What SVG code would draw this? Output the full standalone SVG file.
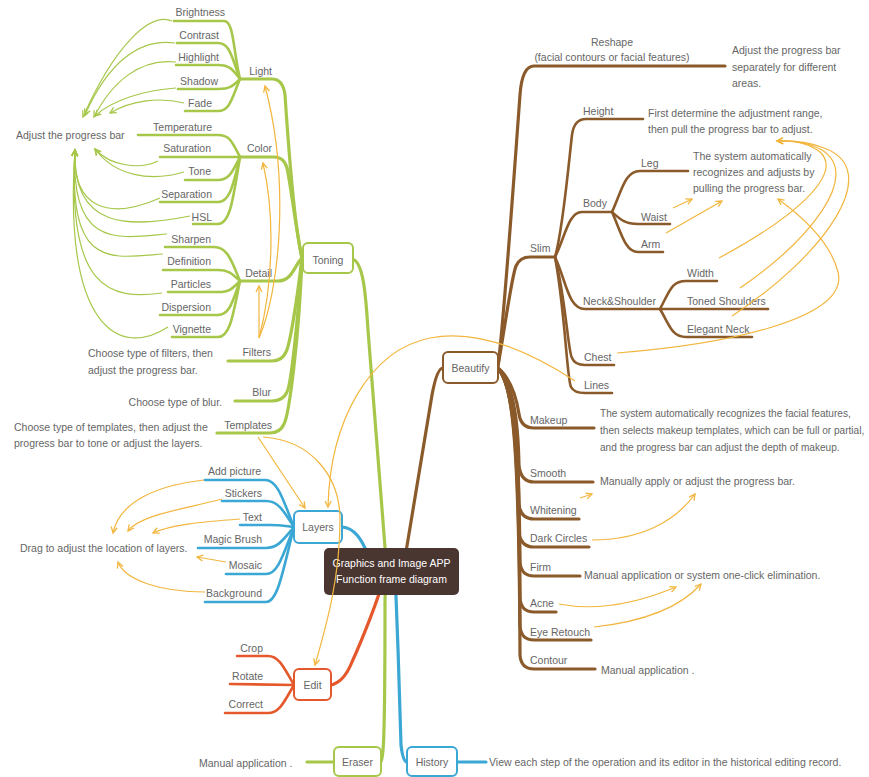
<svg xmlns="http://www.w3.org/2000/svg" width="869" height="777" viewBox="0 0 869 777">
<defs>
<style>
.t{font-family:"Liberation Sans",Arial,sans-serif;font-size:10.5px;fill:#666}
.s{font-size:10.1px}
.e{text-anchor:end}
.m{text-anchor:middle}
.w{fill:#fff}
.g{stroke:#a6c74a;fill:none;stroke-width:2.6;stroke-linecap:round}
.gt{stroke:#a6c74a;fill:none;stroke-width:3.2;stroke-linecap:round}
.b{stroke:#8b5a2b;fill:none;stroke-width:2.6;stroke-linecap:round}
.bt{stroke:#8b5a2b;fill:none;stroke-width:3.2;stroke-linecap:round}
.u{stroke:#3aa7d4;fill:none;stroke-width:2.6;stroke-linecap:round}
.ut{stroke:#3aa7d4;fill:none;stroke-width:3.2;stroke-linecap:round}
.r{stroke:#e5582c;fill:none;stroke-width:2.6;stroke-linecap:round}
.rt{stroke:#e5582c;fill:none;stroke-width:3.2;stroke-linecap:round}
.ga{stroke:#a6c74a;fill:none;stroke-width:1.2;marker-end:url(#ag)}
.oa{stroke:#f2b63e;fill:none;stroke-width:1.2;marker-end:url(#ao)}
.box{fill:#fff;stroke-width:2}
</style>
<marker id="ag" markerUnits="userSpaceOnUse" markerWidth="10" markerHeight="10" refX="7" refY="4" orient="auto"><path d="M1,1 L7,4 L1,7" fill="none" stroke="#a6c74a" stroke-width="1.3"/></marker>
<marker id="ao" markerUnits="userSpaceOnUse" markerWidth="10" markerHeight="10" refX="7" refY="4" orient="auto"><path d="M1,1 L7,4 L1,7" fill="none" stroke="#f2b63e" stroke-width="1.3"/></marker>
</defs>
<rect width="869" height="777" fill="#fff"/>
<g id="connectors">
<path class="gt" d="M352,259 C364,261 366,300 368,330 L386,560"/>
<path class="gt" d="M386,570 L385,600 C385,680 384,740 383,750 Q382,762 381,762"/>
<path class="ut" d="M395,570 C397,620 400,700 401,745 Q403,762 407,762"/>
<path class="ut" d="M342,527 C355,528 362,540 368,555"/>
<path class="bt" d="M403,570 L432,395 Q437,368 443,368"/>
<path class="rt" d="M385,575 C378,600 362,640 352,662 Q344,682 331,685"/>
<path class="gt" d="M334,762 L307,762"/>
<path class="ut" d="M457,762 L486,762"/>
<path class="gt" d="M302,258 C294,225 288,140 285,95 Q283,79 272,79 L240,79"/>
<path class="gt" d="M302,258 C296,230 290,180 287,168 Q284,157 274,157 L240,157"/>
<path class="gt" d="M302,258 C294,266 292,281 278,281 L240,281"/>
<path class="gt" d="M302,258 C297,300 290,345 286,352 Q282,361 272,361 L228,361"/>
<path class="gt" d="M302,258 C298,320 291,385 287,392 Q283,401 272,401 L235,401"/>
<path class="gt" d="M302,258 C299,340 289,415 284,424 Q280,433 270,433 L217,433"/>
<path class="g" d="M240,79 C233,50 234,21 224,21 L174,21"/>
<path class="g" d="M240,79 C232,58 230,43 218,43 L177,43"/>
<path class="g" d="M240,79 C233,70 230,65 218,65 L176,65"/>
<path class="g" d="M240,79 C233,86 230,89 218,89 L178,89"/>
<path class="g" d="M240,79 C232,98 230,111 218,111 L185,111"/>
<path class="g" d="M240,157 C232,142 230,135 218,135 L138,135"/>
<path class="g" d="M240,157 L160,157"/>
<path class="g" d="M240,157 C233,170 230,180 218,180 L185,180"/>
<path class="g" d="M240,157 C233,185 230,202 218,202 L160,202"/>
<path class="g" d="M240,157 C233,200 230,224 218,224 L193,224"/>
<path class="g" d="M240,281 C232,262 228,247 214,247 L165,247"/>
<path class="g" d="M240,281 C233,275 230,270 218,270 L163,270"/>
<path class="g" d="M240,281 C233,288 230,292 218,292 L168,292"/>
<path class="g" d="M240,281 C233,300 230,315 218,315 L160,315"/>
<path class="g" d="M240,281 C233,315 230,337 218,337 L172,337"/>
<path class="u" d="M294,527 C283,500 278,480 265,480 L205,480"/>
<path class="u" d="M294,527 C283,510 278,501 266,501 L222,501"/>
<path class="u" d="M294,527 C285,526 280,525 270,525 L240,525"/>
<path class="u" d="M294,527 C283,540 278,548 266,548 L198,548"/>
<path class="u" d="M294,527 C283,555 278,574 266,574 L226,574"/>
<path class="u" d="M294,527 C283,570 278,602 266,602 L205,602"/>
<path class="r" d="M294,685 C285,670 280,656 268,656 L237,656"/>
<path class="r" d="M294,685 L230,684"/>
<path class="r" d="M294,685 C285,700 280,713 268,713 L225,713"/>
<path class="bt" d="M498,366 C504,320 513,190 520,95 Q522,66 534,66 L725,66"/>
<path class="bt" d="M498,366 C506,320 512,275 516,266 Q520,257 530,257 L555,257"/>
<path class="b" d="M555,257 C563,230 569,160 572,135 Q574,119 586,119 L643,119"/>
<path class="b" d="M555,257 C565,238 568,212 582,212 L612,212"/>
<path class="b" d="M555,257 C566,280 568,309 585,309 L660,309"/>
<path class="b" d="M555,257 C566,300 568,352 572,358 Q575,365 585,365 L614,365"/>
<path class="b" d="M555,257 C565,310 567,380 571,387 Q574,393 585,393 L612,393"/>
<path class="b" d="M612,212 C622,190 625,171 640,171 L688,171"/>
<path class="b" d="M612,212 C621,220 625,224 638,224 L670,224"/>
<path class="b" d="M612,212 C621,232 625,252 638,252 L663,252"/>
<path class="b" d="M660,309 C670,290 672,281 686,281 L717,281"/>
<path class="b" d="M660,309 L768,309"/>
<path class="b" d="M660,309 C670,326 672,337 686,337 L752,337"/>
<path class="bt" d="M498,368 C510,378 516,395 519,414 Q521,428 534,428 L594,428"/>
<path class="bt" d="M498,368 C511,382 518,410 519,466 Q521,482 534,482 L593,482"/>
<path class="bt" d="M498,368 C511,383 518,420 519,505 Q521,519 534,519 L579,519"/>
<path class="bt" d="M498,368 C511,384 518,425 519,533 Q521,547 534,547 L589,547"/>
<path class="bt" d="M498,368 C512,385 519,430 520,562 Q521,576 534,576 L580,576"/>
<path class="bt" d="M498,368 C512,385 519,430 520,598 Q521,612 534,612 L556,612"/>
<path class="bt" d="M498,368 C512,385 519,430 520,626 Q521,640 534,640 L591,640"/>
<path class="bt" d="M498,368 C512,385 519,430 520,655 Q521,669 534,669 L595,669"/>
</g>
<g id="node-root"><rect x="324" y="548" width="135" height="47" rx="5" fill="#4a3631"/><text class="t m w" x="391.5" y="567">Graphics and Image APP</text><text class="t m w" x="391.5" y="583">Function frame diagram</text></g>
<g id="node-toning"><rect class="box" x="303" y="243" width="50" height="30" rx="5" stroke="#a6c74a"/><text class="t m" x="328" y="264">Toning</text></g>
<g id="node-beautify"><rect class="box" x="443" y="352" width="55" height="31" rx="5" stroke="#8b5a2b"/><text class="t m" x="470.5" y="372">Beautify</text></g>
<g id="node-layers"><rect class="box" x="294" y="511" width="48" height="32" rx="5" stroke="#3aa7d4"/><text class="t m" x="318" y="531">Layers</text></g>
<g id="node-edit"><rect class="box" x="294" y="669" width="37" height="31" rx="5" stroke="#e5582c"/><text class="t m" x="312.5" y="689">Edit</text></g>
<g id="node-eraser"><rect class="box" x="334" y="747" width="47" height="29" rx="5" stroke="#a6c74a"/><text class="t m" x="357.5" y="766">Eraser</text></g>
<g id="node-history"><rect class="box" x="407" y="747" width="50" height="29" rx="5" stroke="#3aa7d4"/><text class="t m" x="432" y="766">History</text></g>
<g id="labels-toning">
<text class="t e" x="272" y="75">Light</text>
<text class="t e" x="272" y="152">Color</text>
<text class="t e" x="272" y="277">Detail</text>
<text class="t e" x="271" y="356">Filters</text>
<text class="t e" x="271" y="396">Blur</text>
<text class="t e" x="272" y="429">Templates</text>
<text class="t e" x="225" y="16">Brightness</text>
<text class="t e" x="219" y="39">Contrast</text>
<text class="t e" x="219" y="61">Highlight</text>
<text class="t e" x="218" y="85">Shadow</text>
<text class="t e" x="212" y="107">Fade</text>
<text class="t e" x="212" y="131">Temperature</text>
<text class="t e" x="211" y="152">Saturation</text>
<text class="t e" x="211" y="175">Tone</text>
<text class="t e" x="212" y="198">Separation</text>
<text class="t e" x="212" y="221">HSL</text>
<text class="t e" x="211" y="243">Sharpen</text>
<text class="t e" x="211" y="265">Definition</text>
<text class="t e" x="211" y="288">Particles</text>
<text class="t e" x="211" y="311">Dispersion</text>
<text class="t e" x="211" y="333">Vignette</text>
<text class="t" x="16" y="139">Adjust the progress bar</text>
<text class="t" x="88" y="357">Choose type of filters, then</text>
<text class="t" x="88" y="374">adjust the progress bar.</text>
<text class="t e" x="222" y="406">Choose type of blur.</text>
<text class="t" x="14" y="431">Choose type of templates, then adjust the</text>
<text class="t" x="14" y="447">progress bar to tone or adjust the layers.</text>
</g>
<g id="labels-layers">
<text class="t e" x="261" y="475">Add picture</text>
<text class="t e" x="262" y="497">Stickers</text>
<text class="t e" x="262" y="521">Text</text>
<text class="t e" x="262" y="543">Magic Brush</text>
<text class="t e" x="262" y="569">Mosaic</text>
<text class="t e" x="262" y="597">Background</text>
<text class="t" x="20" y="552">Drag to adjust the location of layers.</text>
</g>
<g id="labels-edit">
<text class="t e" x="263" y="652">Crop</text>
<text class="t e" x="263" y="680">Rotate</text>
<text class="t e" x="263" y="708">Correct</text>
<text class="t" x="199" y="767">Manual application .</text>
</g>
<g id="labels-beautify">
<text class="t m" x="612" y="46">Reshape</text>
<text class="t m" x="612" y="61">(facial contours or facial features)</text>
<text class="t" x="732" y="54">Adjust the progress bar</text>
<text class="t" x="732" y="71">separately for different</text>
<text class="t" x="732" y="87">areas.</text>
<text class="t" x="530" y="252">Slim</text>
<text class="t" x="583" y="115">Height</text>
<text class="t" x="648" y="117">First determine the adjustment range,</text>
<text class="t" x="648" y="133">then pull the progress bar to adjust.</text>
<text class="t" x="583" y="207">Body</text>
<text class="t" x="641" y="167">Leg</text>
<text class="t" x="641" y="221">Waist</text>
<text class="t" x="641" y="248">Arm</text>
<text class="t" x="693" y="160">The system automatically</text>
<text class="t" x="693" y="176">recognizes and adjusts by</text>
<text class="t" x="693" y="192">pulling the progress bar.</text>
<text class="t" x="583" y="305">Neck&amp;Shoulder</text>
<text class="t" x="687" y="277">Width</text>
<text class="t" x="687" y="305">Toned Shoulders</text>
<text class="t" x="687" y="333">Elegant Neck</text>
<text class="t" x="584" y="361">Chest</text>
<text class="t" x="584" y="389">Lines</text>
<text class="t" x="530" y="424">Makeup</text>
<text class="t s" x="600" y="417">The system automatically recognizes the facial features,</text>
<text class="t s" x="600" y="434">then selects makeup templates, which can be full or partial,</text>
<text class="t s" x="600" y="451">and the progress bar can adjust the depth of makeup.</text>
<text class="t" x="530" y="477">Smooth</text>
<text class="t" x="600" y="485">Manually apply or adjust the progress bar.</text>
<text class="t" x="530" y="514">Whitening</text>
<text class="t" x="530" y="542">Dark Circles</text>
<text class="t" x="530" y="571">Firm</text>
<text class="t" x="584" y="579">Manual application or system one-click elimination.</text>
<text class="t" x="530" y="607">Acne</text>
<text class="t" x="530" y="636">Eye Retouch</text>
<text class="t" x="530" y="664">Contour</text>
<text class="t" x="601" y="674">Manual application .</text>
<text class="t" x="489" y="766">View each step of the operation and its editor in the historical editing record.</text>
</g>
<g id="arrows">
<path class="ga" d="M172,21 C150,12 115,45 83,117"/>
<path class="ga" d="M175,43 C140,38 108,62 85,115"/>
<path class="ga" d="M176,62 C140,58 112,82 94,117"/>
<path class="ga" d="M176,88 C145,90 112,100 95,116"/>
<path class="ga" d="M184,103 C160,97 132,100 110,113"/>
<path class="ga" d="M158,161 C140,170 110,166 95,149"/>
<path class="ga" d="M184,172 C150,182 115,176 95,149"/>
<path class="ga" d="M160,198 C110,220 72,210 75,150"/>
<path class="ga" d="M190,216 C130,228 72,230 75,150"/>
<path class="ga" d="M167,234 C120,238 70,250 75,150"/>
<path class="ga" d="M163,254 C110,258 68,270 75,150"/>
<path class="ga" d="M162,293 C110,300 67,290 75,150"/>
<path class="ga" d="M168,327 C120,358 63,330 75,150"/>
<path class="oa" d="M259,338 L259,286"/>
<path class="oa" d="M259,338 C272,290 276,220 263,163"/>
<path class="oa" d="M259,338 C280,290 290,180 265,86"/>
<path class="oa" d="M258,437 L305,508"/>
<path class="oa" d="M263,437 C310,440 340,475 340,520 C340,580 325,630 315,665"/>
<path class="oa" d="M575,381 C520,345 470,330 430,338 C370,350 330,420 328,507"/>
<path class="oa" d="M204,480 C160,485 120,500 113,533"/>
<path class="oa" d="M222,499 C180,510 140,515 128,531"/>
<path class="oa" d="M240,519 C200,522 170,525 153,533"/>
<path class="oa" d="M226,562 L197,557"/>
<path class="oa" d="M205,592 C160,592 125,580 118,562"/>
<path class="oa" d="M673,208 L692,199"/>
<path class="oa" d="M666,233 L722,201"/>
<path class="oa" d="M719,258 C790,220 845,175 820,152 Q805,140 777,141"/>
<path class="oa" d="M740,288 C810,240 862,175 822,150 Q805,140 777,141"/>
<path class="oa" d="M732,316 C825,255 885,170 824,148 Q805,140 777,141"/>
<path class="oa" d="M617,353 C720,345 850,320 838,272 C830,240 800,215 778,199"/>
<path class="oa" d="M580,498 L592,494"/>
<path class="oa" d="M592,540 C640,540 675,522 695,494"/>
<path class="oa" d="M559,604 C600,612 640,602 676,587"/>
<path class="oa" d="M594,627 C640,622 678,610 701,584"/>
</g>
</svg>
